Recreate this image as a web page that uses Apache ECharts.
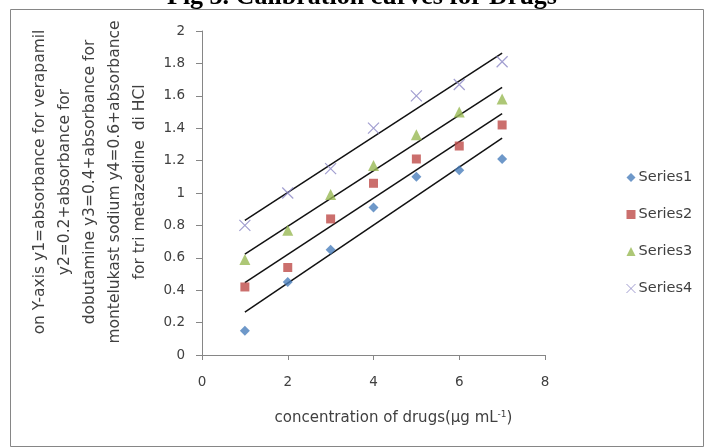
<!DOCTYPE html>
<html>
<head>
<meta charset="utf-8">
<script src="https://cdn.jsdelivr.net/npm/echarts@6/dist/echarts.min.js"></script>
<style>
  html, body { margin: 0; padding: 0; background: #fff; }
  #chart { width: 704px; height: 448px; }
</style>
</head>
<body>
<div id="chart"></div>
<script>
// concentrations (x) and absorbance values
const conc = [1, 2, 3, 4, 5, 6, 7];
const series1 = [0.15, 0.45, 0.65, 0.91, 1.10, 1.14, 1.21];
const series2 = [0.42, 0.54, 0.84, 1.06, 1.21, 1.29, 1.42];
const series3 = [0.59, 0.77, 0.99, 1.17, 1.36, 1.50, 1.58];
const series4 = [0.80, 1.00, 1.15, 1.40, 1.60, 1.67, 1.81];
const seriesNames = ['Series1', 'Series2', 'Series3', 'Series4'];
const xTicks = [0, 2, 4, 6, 8];
const yTicks = [0, 0.2, 0.4, 0.6, 0.8, 1, 1.2, 1.4, 1.6, 1.8, 2];

const font = '"DejaVu Sans", sans-serif';

// linear trendline (least squares), like excel does
function trend(xs, ys) {
  const n = xs.length;
  const mx = xs.reduce((a, b) => a + b, 0) / n;
  const my = ys.reduce((a, b) => a + b, 0) / n;
  let sxy = 0, sxx = 0;
  for (let i = 0; i < n; i++) {
    sxy += (xs[i] - mx) * (ys[i] - my);
    sxx += (xs[i] - mx) * (xs[i] - mx);
  }
  const k = sxy / sxx;
  const b = my - k * mx;
  const x0 = xs[0], x1 = xs[n - 1];
  return [[x0, k * x0 + b], [x1, k * x1 + b]];
}

const allY = [series1, series2, series3, series4];
const symbols = [
  { symbol: 'diamond', size: 10, color: '#4A7EBB' },
  { symbol: 'rect', size: 9, color: '#BE4B48' },
  { symbol: 'triangle', size: 11, color: '#98B954' },
  { symbol: 'path://M0,0 L10,10 M10,0 L0,10', size: 11, color: 'transparent', border: '#8A86C4' }
];

const scatterSeries = allY.map((ys, i) => ({
  name: seriesNames[i],
  type: 'scatter',
  symbol: symbols[i].symbol,
  symbolSize: symbols[i].size,
  itemStyle: symbols[i].border
    ? { color: 'transparent', borderColor: symbols[i].border, borderWidth: 1.2 }
    : { color: symbols[i].color },
  data: conc.map((x, j) => [x, ys[j]]),
  z: 3
}));

const lineSeries = allY.map((ys) => ({
  type: 'line',
  data: trend(conc, ys),
  showSymbol: false,
  silent: true,
  lineStyle: { color: '#111', width: 1.5 },
  z: 2
}));

const chart = echarts.init(document.getElementById('chart'));
chart.setOption({
  animation: false,
  grid: { left: 202, right: 159, top: 31, bottom: 93 },
  xAxis: {
    type: 'value',
    min: 0, max: 8, interval: 2,
    splitLine: { show: false },
    axisLine: { lineStyle: { color: '#868686' } },
    axisTick: { show: true, length: 5, lineStyle: { color: '#868686' } },
    axisLabel: { color: '#404040', fontSize: 13.5, fontFamily: font, margin: 20 },
    name: '{t|concentration of drugs(μg mL}{s|-1}{t|)}',
    nameLocation: 'middle',
    nameGap: 55,
    nameTextStyle: {
      padding: [0, 0, 0, 40],
      rich: {
        t: { fontSize: 15, fontFamily: font, color: '#404040' },
        s: { fontSize: 9, fontFamily: font, color: '#404040', verticalAlign: 'top', padding: [0, 0, 7, 0] }
      }
    }
  },
  yAxis: {
    type: 'value',
    min: 0, max: 2, interval: 0.2,
    splitLine: { show: false },
    axisLine: { show: true, lineStyle: { color: '#868686' } },
    axisTick: { show: true, length: 6, lineStyle: { color: '#868686' } },
    axisLabel: {
      color: '#404040', fontSize: 13.5, fontFamily: font, margin: 17,
      formatter: (v) => String(Math.round(v * 10) / 10)
    }
  },
  legend: {
    orient: 'vertical',
    left: 621,
    top: 163,
    itemGap: 18,
    itemWidth: 9,
    itemHeight: 9,
    textStyle: { color: '#404040', fontSize: 14.5, fontFamily: font, padding: [0, 0, 0, -2], lineHeight: 19 },
    data: seriesNames.map((n, i) => ({
      name: n,
      icon: symbols[i].symbol,
      itemStyle: symbols[i].border
        ? { color: 'transparent', borderColor: symbols[i].border, borderWidth: 1 }
        : { color: symbols[i].color }
    }))
  },
  graphic: [
    {
      type: 'rect',
      shape: { x: 10.5, y: 9.5, width: 693, height: 437 },
      style: { fill: 'none', stroke: '#868686', lineWidth: 1 },
      silent: true
    },
    {
      type: 'text',
      x: 362,
      y: 10,
      style: {
        text: 'Fig 3. Calibration curves for Drugs',
        font: 'bold 26px "Liberation Serif", "DejaVu Serif", serif',
        fill: '#000',
        align: 'center',
        verticalAlign: 'bottom'
      }
    },
    {
      type: 'text',
      x: 90,
      y: 182,
      rotation: Math.PI / 2,
      style: {
        text: 'on Y-axis y1=absorbance for verapamil\ny2=0.2+absorbance for\ndobutamine y3=0.4+absorbance for\nmontelukast sodium y4=0.6+absorbance\nfor tri metazedine  di HCl',
        font: '15.5px ' + font,
        fill: '#404040',
        align: 'center',
        verticalAlign: 'middle',
        lineHeight: 25
      }
    }
  ],
  series: scatterSeries.concat(lineSeries)
});
</script>
</body>
</html>
